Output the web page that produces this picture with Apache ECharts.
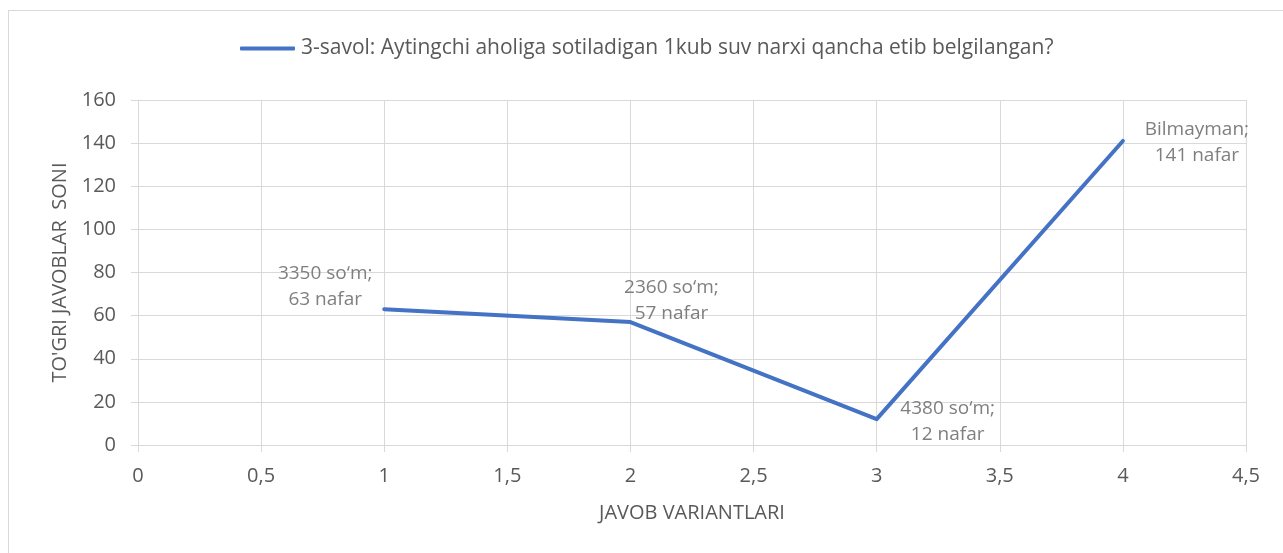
<!DOCTYPE html>
<html lang="uz">
<head>
  <meta charset="UTF-8">
  <title>3-savol</title>
  <script src="https://cdn.jsdelivr.net/npm/echarts@6/dist/echarts.min.js"></script>
  <style>
    html, body {
      margin: 0;
      padding: 0;
      background: #fff;
      overflow: hidden;
    }
    #frame {
      position: absolute;
      left: 8px;
      top: 10px;
      width: 1300px;
      height: 600px;
      border: 1px solid #d9d9d9;
      box-sizing: border-box;
    }
    #main {
      position: absolute;
      left: 0;
      top: 0;
      width: 1283px;
      height: 553px;
    }
  </style>
</head>
<body>
  <div id="frame"></div>
  <div id="main"></div>

  <script>
    // javob variantlari (x), javoblar soni (y), nuqta yorliqlari
    const xValues = [1, 2, 3, 4];
    const counts = [63, 57, 12, 141];
    const answerNames = ['3350 so\u2018m', '2360 so\u2018m', '4380 so\u2018m', 'Bilmayman'];
    const labelOffsets = [[-59, -23], [41, -22], [71, 2], [74, 2]];

    const seriesName = '3-savol: Aytingchi aholiga sotiladigan 1kub suv narxi qancha etib belgilangan?';
    const font = "'Open Sans', sans-serif";
    const gridColor = '#d9d9d9';
    const textColor = '#595959';

    const chart = echarts.init(document.getElementById('main'));

    const comma = v => String(v).replace('.', ',');

    const option = {
      animation: false,
      textStyle: { fontFamily: font },
      legend: {
        left: 235,
        top: 33,
        itemWidth: 55,
        itemHeight: 4,
        icon: 'roundRect',
        textStyle: { color: textColor, fontSize: 21, fontFamily: font, padding: [0, 0, 0, 1] },
        data: [seriesName]
      },
      grid: {
        left: 138,
        right: 37,
        top: 100,
        bottom: 108,
        containLabel: false
      },
      xAxis: {
        type: 'value',
        min: 0,
        max: 4.5,
        interval: 0.5,
        name: 'JAVOB VARIANTLARI',
        nameLocation: 'middle',
        nameGap: 58,
        nameTextStyle: { color: textColor, fontSize: 20, fontFamily: font },
        axisLine: { show: true, lineStyle: { color: gridColor, width: 1 } },
        axisTick: { show: true, length: 7, lineStyle: { color: gridColor } },
        axisLabel: {
          color: textColor,
          fontSize: 20,
          margin: 21,
          formatter: comma
        },
        splitLine: { show: true, lineStyle: { color: gridColor, width: 1 } }
      },
      yAxis: {
        type: 'value',
        min: 0,
        max: 160,
        interval: 20,
        name: "TO'GRI JAVOBLAR  SONI",
        nameLocation: 'middle',
        nameGap: 64,
        nameRotate: 90,
        nameTextStyle: { color: textColor, fontSize: 20, fontFamily: font },
        axisLine: { show: true, lineStyle: { color: gridColor, width: 1 } },
        axisTick: { show: true, length: 7, lineStyle: { color: gridColor } },
        axisLabel: {
          color: textColor,
          fontSize: 20,
          margin: 22
        },
        splitLine: { show: true, lineStyle: { color: gridColor, width: 1 } }
      },
      series: [
        {
          name: seriesName,
          type: 'line',
          showSymbol: true,
          symbol: 'circle',
          symbolSize: 0,
          lineStyle: { color: '#4472c4', width: 4, cap: 'round', join: 'round' },
          itemStyle: { color: '#4472c4' },
          data: xValues.map((x, i) => ({
            value: [x, counts[i]],
            label: {
              show: true,
              position: 'inside',
              offset: labelOffsets[i],
              align: 'center',
              verticalAlign: 'middle',
              lineHeight: 26,
              fontSize: 19,
              color: '#7f7f7f',
              fontFamily: font,
              formatter: answerNames[i] + ';\n' + counts[i] + ' nafar'
            }
          }))
        }
      ]
    };

    chart.setOption(option);
  </script>
</body>
</html>
